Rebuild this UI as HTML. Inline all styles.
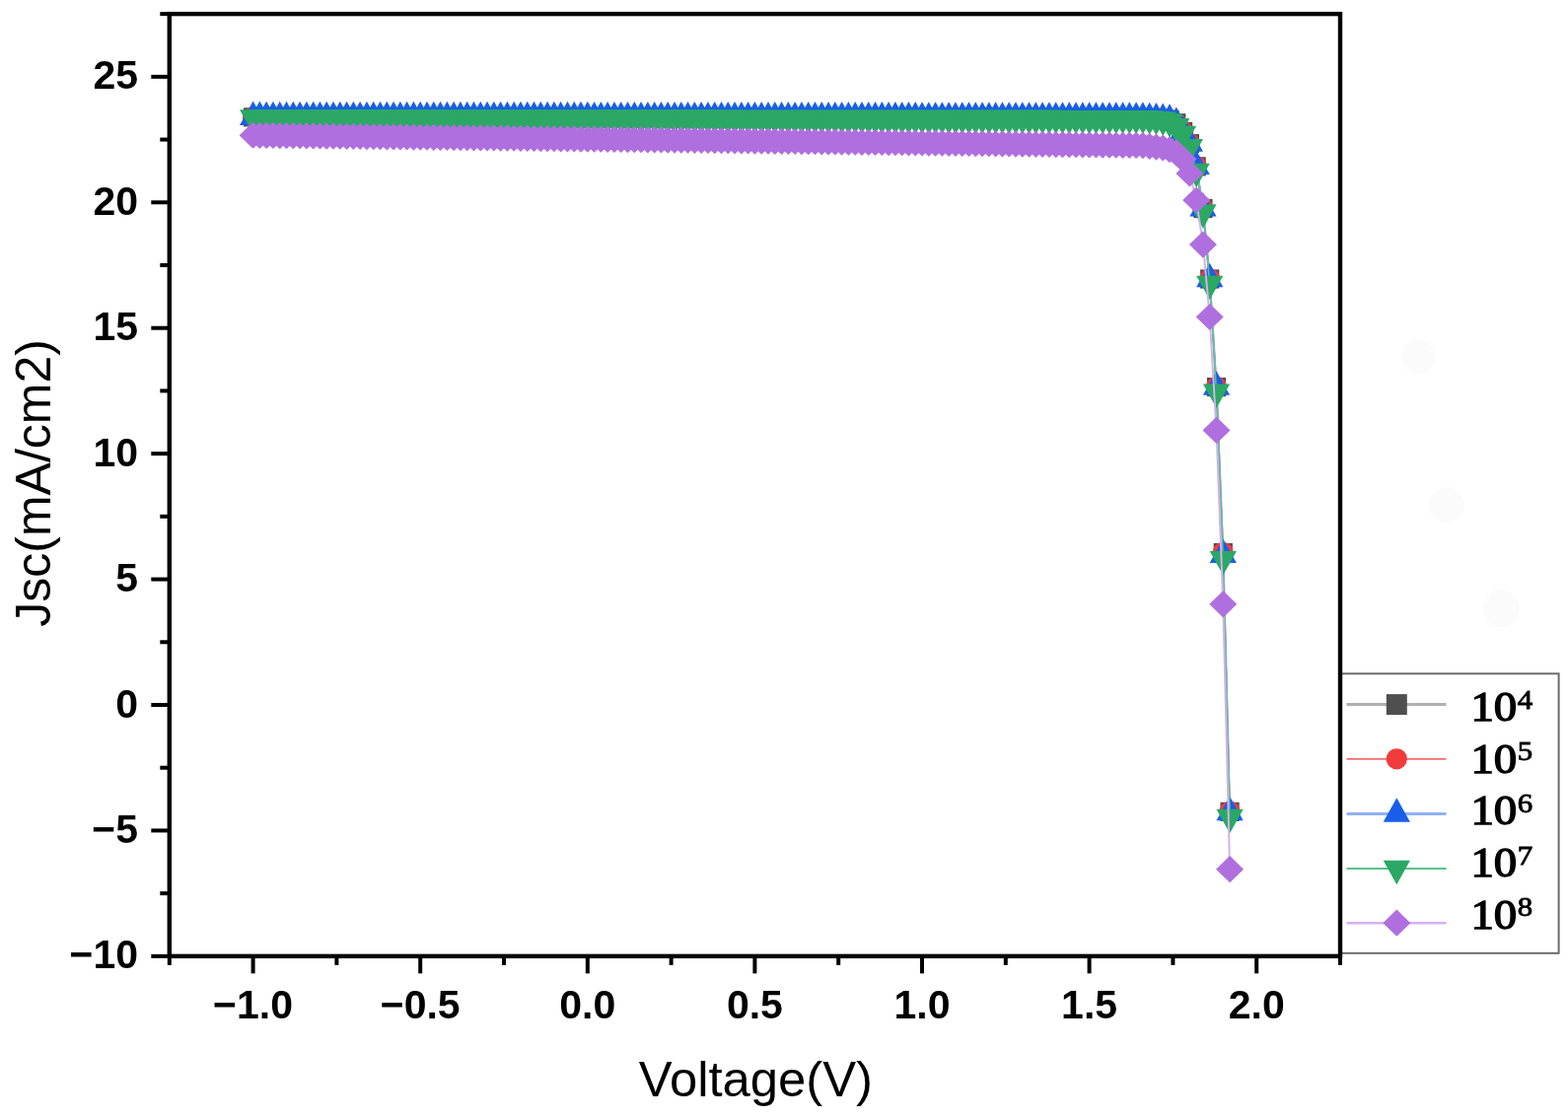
<!DOCTYPE html>
<html><head><meta charset="utf-8"><title>Jsc vs Voltage</title>
<style>
html,body{margin:0;padding:0;background:#fff;}
svg{display:block;}
</style></head>
<body>
<svg width="1590" height="1135" viewBox="0 0 1590 1135">
<rect width="1590" height="1135" fill="#fff"/>
<g fill="#fbfbfb"><circle cx="1438" cy="362" r="17"/><circle cx="1467" cy="512" r="18"/><circle cx="1522" cy="617" r="19"/></g>
<defs><clipPath id="pc"><rect x="171.80" y="14.13" width="1187.20" height="955.73"/></clipPath></defs>
<g clip-path="url(#pc)">
<polyline points="256.60,118.88 263.38,118.89 270.17,118.89 276.95,118.90 283.74,118.90 290.52,118.91 297.30,118.91 304.09,118.92 310.87,118.92 317.66,118.93 324.44,118.93 331.22,118.94 338.01,118.94 344.79,118.95 351.58,118.95 358.36,118.96 365.14,118.96 371.93,118.97 378.71,118.97 385.50,118.98 392.28,118.98 399.06,118.99 405.85,118.99 412.63,119.00 419.42,119.00 426.20,119.01 432.98,119.01 439.77,119.02 446.55,119.03 453.34,119.03 460.12,119.04 466.90,119.04 473.69,119.05 480.47,119.05 487.26,119.06 494.04,119.06 500.82,119.07 507.61,119.07 514.39,119.08 521.18,119.08 527.96,119.09 534.74,119.09 541.53,119.10 548.31,119.10 555.10,119.11 561.88,119.11 568.66,119.12 575.45,119.12 582.23,119.13 589.02,119.13 595.80,119.14 602.58,119.14 609.37,119.15 616.15,119.15 622.94,119.16 629.72,119.16 636.50,119.17 643.29,119.17 650.07,119.18 656.86,119.18 663.64,119.19 670.42,119.19 677.21,119.20 683.99,119.20 690.78,119.21 697.56,119.21 704.34,119.22 711.13,119.22 717.91,119.23 724.70,119.23 731.48,119.24 738.26,119.24 745.05,119.25 751.83,119.25 758.62,119.26 765.40,119.26 772.18,119.27 778.97,119.27 785.75,119.28 792.54,119.29 799.32,119.29 806.10,119.30 812.89,119.30 819.67,119.31 826.46,119.31 833.24,119.32 840.02,119.32 846.81,119.33 853.59,119.33 860.38,119.34 867.16,119.34 873.94,119.35 880.73,119.35 887.51,119.36 894.30,119.36 901.08,119.37 907.86,119.37 914.65,119.38 921.43,119.38 928.22,119.39 935.00,119.39 941.78,119.40 948.57,119.40 955.35,119.41 962.14,119.41 968.92,119.42 975.70,119.42 982.49,119.43 989.27,119.43 996.06,119.44 1002.84,119.44 1009.62,119.45 1016.41,119.45 1023.19,119.46 1029.98,119.46 1036.76,119.47 1043.54,119.47 1050.33,119.48 1057.11,119.48 1063.90,119.49 1070.68,119.49 1077.46,119.50 1084.25,119.50 1091.03,119.51 1097.82,119.51 1104.60,119.52 1111.38,119.52 1118.17,119.53 1124.95,119.53 1131.74,119.54 1138.52,119.55 1145.30,119.55 1152.09,119.56 1158.87,119.56 1165.66,119.90 1172.44,120.16 1179.22,120.67 1186.01,121.43 1192.79,124.74 1199.58,133.41 1206.36,145.64 1213.14,168.84 1219.93,211.40 1226.71,283.01 1233.50,392.60 1240.28,560.55 1247.06,823.32" fill="none" stroke="#b0b0b0" stroke-width="2"/>
<g fill="#4f4f4f"><rect x="247.00" y="109.28" width="19.20" height="19.20"/><rect x="253.78" y="109.29" width="19.20" height="19.20"/><rect x="260.57" y="109.29" width="19.20" height="19.20"/><rect x="267.35" y="109.30" width="19.20" height="19.20"/><rect x="274.14" y="109.30" width="19.20" height="19.20"/><rect x="280.92" y="109.31" width="19.20" height="19.20"/><rect x="287.70" y="109.31" width="19.20" height="19.20"/><rect x="294.49" y="109.32" width="19.20" height="19.20"/><rect x="301.27" y="109.32" width="19.20" height="19.20"/><rect x="308.06" y="109.33" width="19.20" height="19.20"/><rect x="314.84" y="109.33" width="19.20" height="19.20"/><rect x="321.62" y="109.34" width="19.20" height="19.20"/><rect x="328.41" y="109.34" width="19.20" height="19.20"/><rect x="335.19" y="109.35" width="19.20" height="19.20"/><rect x="341.98" y="109.35" width="19.20" height="19.20"/><rect x="348.76" y="109.36" width="19.20" height="19.20"/><rect x="355.54" y="109.36" width="19.20" height="19.20"/><rect x="362.33" y="109.37" width="19.20" height="19.20"/><rect x="369.11" y="109.37" width="19.20" height="19.20"/><rect x="375.90" y="109.38" width="19.20" height="19.20"/><rect x="382.68" y="109.38" width="19.20" height="19.20"/><rect x="389.46" y="109.39" width="19.20" height="19.20"/><rect x="396.25" y="109.39" width="19.20" height="19.20"/><rect x="403.03" y="109.40" width="19.20" height="19.20"/><rect x="409.82" y="109.40" width="19.20" height="19.20"/><rect x="416.60" y="109.41" width="19.20" height="19.20"/><rect x="423.38" y="109.41" width="19.20" height="19.20"/><rect x="430.17" y="109.42" width="19.20" height="19.20"/><rect x="436.95" y="109.43" width="19.20" height="19.20"/><rect x="443.74" y="109.43" width="19.20" height="19.20"/><rect x="450.52" y="109.44" width="19.20" height="19.20"/><rect x="457.30" y="109.44" width="19.20" height="19.20"/><rect x="464.09" y="109.45" width="19.20" height="19.20"/><rect x="470.87" y="109.45" width="19.20" height="19.20"/><rect x="477.66" y="109.46" width="19.20" height="19.20"/><rect x="484.44" y="109.46" width="19.20" height="19.20"/><rect x="491.22" y="109.47" width="19.20" height="19.20"/><rect x="498.01" y="109.47" width="19.20" height="19.20"/><rect x="504.79" y="109.48" width="19.20" height="19.20"/><rect x="511.58" y="109.48" width="19.20" height="19.20"/><rect x="518.36" y="109.49" width="19.20" height="19.20"/><rect x="525.14" y="109.49" width="19.20" height="19.20"/><rect x="531.93" y="109.50" width="19.20" height="19.20"/><rect x="538.71" y="109.50" width="19.20" height="19.20"/><rect x="545.50" y="109.51" width="19.20" height="19.20"/><rect x="552.28" y="109.51" width="19.20" height="19.20"/><rect x="559.06" y="109.52" width="19.20" height="19.20"/><rect x="565.85" y="109.52" width="19.20" height="19.20"/><rect x="572.63" y="109.53" width="19.20" height="19.20"/><rect x="579.42" y="109.53" width="19.20" height="19.20"/><rect x="586.20" y="109.54" width="19.20" height="19.20"/><rect x="592.98" y="109.54" width="19.20" height="19.20"/><rect x="599.77" y="109.55" width="19.20" height="19.20"/><rect x="606.55" y="109.55" width="19.20" height="19.20"/><rect x="613.34" y="109.56" width="19.20" height="19.20"/><rect x="620.12" y="109.56" width="19.20" height="19.20"/><rect x="626.90" y="109.57" width="19.20" height="19.20"/><rect x="633.69" y="109.57" width="19.20" height="19.20"/><rect x="640.47" y="109.58" width="19.20" height="19.20"/><rect x="647.26" y="109.58" width="19.20" height="19.20"/><rect x="654.04" y="109.59" width="19.20" height="19.20"/><rect x="660.82" y="109.59" width="19.20" height="19.20"/><rect x="667.61" y="109.60" width="19.20" height="19.20"/><rect x="674.39" y="109.60" width="19.20" height="19.20"/><rect x="681.18" y="109.61" width="19.20" height="19.20"/><rect x="687.96" y="109.61" width="19.20" height="19.20"/><rect x="694.74" y="109.62" width="19.20" height="19.20"/><rect x="701.53" y="109.62" width="19.20" height="19.20"/><rect x="708.31" y="109.63" width="19.20" height="19.20"/><rect x="715.10" y="109.63" width="19.20" height="19.20"/><rect x="721.88" y="109.64" width="19.20" height="19.20"/><rect x="728.66" y="109.64" width="19.20" height="19.20"/><rect x="735.45" y="109.65" width="19.20" height="19.20"/><rect x="742.23" y="109.65" width="19.20" height="19.20"/><rect x="749.02" y="109.66" width="19.20" height="19.20"/><rect x="755.80" y="109.66" width="19.20" height="19.20"/><rect x="762.58" y="109.67" width="19.20" height="19.20"/><rect x="769.37" y="109.67" width="19.20" height="19.20"/><rect x="776.15" y="109.68" width="19.20" height="19.20"/><rect x="782.94" y="109.69" width="19.20" height="19.20"/><rect x="789.72" y="109.69" width="19.20" height="19.20"/><rect x="796.50" y="109.70" width="19.20" height="19.20"/><rect x="803.29" y="109.70" width="19.20" height="19.20"/><rect x="810.07" y="109.71" width="19.20" height="19.20"/><rect x="816.86" y="109.71" width="19.20" height="19.20"/><rect x="823.64" y="109.72" width="19.20" height="19.20"/><rect x="830.42" y="109.72" width="19.20" height="19.20"/><rect x="837.21" y="109.73" width="19.20" height="19.20"/><rect x="843.99" y="109.73" width="19.20" height="19.20"/><rect x="850.78" y="109.74" width="19.20" height="19.20"/><rect x="857.56" y="109.74" width="19.20" height="19.20"/><rect x="864.34" y="109.75" width="19.20" height="19.20"/><rect x="871.13" y="109.75" width="19.20" height="19.20"/><rect x="877.91" y="109.76" width="19.20" height="19.20"/><rect x="884.70" y="109.76" width="19.20" height="19.20"/><rect x="891.48" y="109.77" width="19.20" height="19.20"/><rect x="898.26" y="109.77" width="19.20" height="19.20"/><rect x="905.05" y="109.78" width="19.20" height="19.20"/><rect x="911.83" y="109.78" width="19.20" height="19.20"/><rect x="918.62" y="109.79" width="19.20" height="19.20"/><rect x="925.40" y="109.79" width="19.20" height="19.20"/><rect x="932.18" y="109.80" width="19.20" height="19.20"/><rect x="938.97" y="109.80" width="19.20" height="19.20"/><rect x="945.75" y="109.81" width="19.20" height="19.20"/><rect x="952.54" y="109.81" width="19.20" height="19.20"/><rect x="959.32" y="109.82" width="19.20" height="19.20"/><rect x="966.10" y="109.82" width="19.20" height="19.20"/><rect x="972.89" y="109.83" width="19.20" height="19.20"/><rect x="979.67" y="109.83" width="19.20" height="19.20"/><rect x="986.46" y="109.84" width="19.20" height="19.20"/><rect x="993.24" y="109.84" width="19.20" height="19.20"/><rect x="1000.02" y="109.85" width="19.20" height="19.20"/><rect x="1006.81" y="109.85" width="19.20" height="19.20"/><rect x="1013.59" y="109.86" width="19.20" height="19.20"/><rect x="1020.38" y="109.86" width="19.20" height="19.20"/><rect x="1027.16" y="109.87" width="19.20" height="19.20"/><rect x="1033.94" y="109.87" width="19.20" height="19.20"/><rect x="1040.73" y="109.88" width="19.20" height="19.20"/><rect x="1047.51" y="109.88" width="19.20" height="19.20"/><rect x="1054.30" y="109.89" width="19.20" height="19.20"/><rect x="1061.08" y="109.89" width="19.20" height="19.20"/><rect x="1067.86" y="109.90" width="19.20" height="19.20"/><rect x="1074.65" y="109.90" width="19.20" height="19.20"/><rect x="1081.43" y="109.91" width="19.20" height="19.20"/><rect x="1088.22" y="109.91" width="19.20" height="19.20"/><rect x="1095.00" y="109.92" width="19.20" height="19.20"/><rect x="1101.78" y="109.92" width="19.20" height="19.20"/><rect x="1108.57" y="109.93" width="19.20" height="19.20"/><rect x="1115.35" y="109.93" width="19.20" height="19.20"/><rect x="1122.14" y="109.94" width="19.20" height="19.20"/><rect x="1128.92" y="109.95" width="19.20" height="19.20"/><rect x="1135.70" y="109.95" width="19.20" height="19.20"/><rect x="1142.49" y="109.96" width="19.20" height="19.20"/><rect x="1149.27" y="109.96" width="19.20" height="19.20"/><rect x="1156.06" y="110.30" width="19.20" height="19.20"/><rect x="1162.84" y="110.56" width="19.20" height="19.20"/><rect x="1169.62" y="111.07" width="19.20" height="19.20"/><rect x="1176.41" y="111.83" width="19.20" height="19.20"/><rect x="1183.19" y="115.14" width="19.20" height="19.20"/><rect x="1189.98" y="123.81" width="19.20" height="19.20"/><rect x="1196.76" y="136.04" width="19.20" height="19.20"/><rect x="1203.54" y="159.24" width="19.20" height="19.20"/><rect x="1210.33" y="201.80" width="19.20" height="19.20"/><rect x="1217.11" y="273.41" width="19.20" height="19.20"/><rect x="1223.90" y="383.00" width="19.20" height="19.20"/><rect x="1230.68" y="550.95" width="19.20" height="19.20"/><rect x="1237.46" y="813.72" width="19.20" height="19.20"/></g>
<polyline points="256.60,118.88 263.38,118.89 270.17,118.89 276.95,118.90 283.74,118.90 290.52,118.91 297.30,118.91 304.09,118.92 310.87,118.92 317.66,118.93 324.44,118.93 331.22,118.94 338.01,118.94 344.79,118.95 351.58,118.95 358.36,118.96 365.14,118.96 371.93,118.97 378.71,118.97 385.50,118.98 392.28,118.98 399.06,118.99 405.85,118.99 412.63,119.00 419.42,119.00 426.20,119.01 432.98,119.01 439.77,119.02 446.55,119.03 453.34,119.03 460.12,119.04 466.90,119.04 473.69,119.05 480.47,119.05 487.26,119.06 494.04,119.06 500.82,119.07 507.61,119.07 514.39,119.08 521.18,119.08 527.96,119.09 534.74,119.09 541.53,119.10 548.31,119.10 555.10,119.11 561.88,119.11 568.66,119.12 575.45,119.12 582.23,119.13 589.02,119.13 595.80,119.14 602.58,119.14 609.37,119.15 616.15,119.15 622.94,119.16 629.72,119.16 636.50,119.17 643.29,119.17 650.07,119.18 656.86,119.18 663.64,119.19 670.42,119.19 677.21,119.20 683.99,119.20 690.78,119.21 697.56,119.21 704.34,119.22 711.13,119.22 717.91,119.23 724.70,119.23 731.48,119.24 738.26,119.24 745.05,119.25 751.83,119.25 758.62,119.26 765.40,119.26 772.18,119.27 778.97,119.27 785.75,119.28 792.54,119.29 799.32,119.29 806.10,119.30 812.89,119.30 819.67,119.31 826.46,119.31 833.24,119.32 840.02,119.32 846.81,119.33 853.59,119.33 860.38,119.34 867.16,119.34 873.94,119.35 880.73,119.35 887.51,119.36 894.30,119.36 901.08,119.37 907.86,119.37 914.65,119.38 921.43,119.38 928.22,119.39 935.00,119.39 941.78,119.40 948.57,119.40 955.35,119.41 962.14,119.41 968.92,119.42 975.70,119.42 982.49,119.43 989.27,119.43 996.06,119.44 1002.84,119.44 1009.62,119.45 1016.41,119.45 1023.19,119.46 1029.98,119.46 1036.76,119.47 1043.54,119.47 1050.33,119.48 1057.11,119.48 1063.90,119.49 1070.68,119.49 1077.46,119.50 1084.25,119.50 1091.03,119.51 1097.82,119.51 1104.60,119.52 1111.38,119.52 1118.17,119.53 1124.95,119.53 1131.74,119.54 1138.52,119.55 1145.30,119.55 1152.09,119.56 1158.87,119.56 1165.66,119.90 1172.44,120.16 1179.22,120.67 1186.01,121.43 1192.79,124.74 1199.58,133.41 1206.36,145.64 1213.14,168.84 1219.93,211.40 1226.71,283.01 1233.50,392.60 1240.28,560.55 1247.06,823.32" fill="none" stroke="#f56b6b" stroke-width="1.6"/>
<g fill="#f23b3b"><circle cx="256.60" cy="118.88" r="10.6"/><circle cx="263.38" cy="118.89" r="10.6"/><circle cx="270.17" cy="118.89" r="10.6"/><circle cx="276.95" cy="118.90" r="10.6"/><circle cx="283.74" cy="118.90" r="10.6"/><circle cx="290.52" cy="118.91" r="10.6"/><circle cx="297.30" cy="118.91" r="10.6"/><circle cx="304.09" cy="118.92" r="10.6"/><circle cx="310.87" cy="118.92" r="10.6"/><circle cx="317.66" cy="118.93" r="10.6"/><circle cx="324.44" cy="118.93" r="10.6"/><circle cx="331.22" cy="118.94" r="10.6"/><circle cx="338.01" cy="118.94" r="10.6"/><circle cx="344.79" cy="118.95" r="10.6"/><circle cx="351.58" cy="118.95" r="10.6"/><circle cx="358.36" cy="118.96" r="10.6"/><circle cx="365.14" cy="118.96" r="10.6"/><circle cx="371.93" cy="118.97" r="10.6"/><circle cx="378.71" cy="118.97" r="10.6"/><circle cx="385.50" cy="118.98" r="10.6"/><circle cx="392.28" cy="118.98" r="10.6"/><circle cx="399.06" cy="118.99" r="10.6"/><circle cx="405.85" cy="118.99" r="10.6"/><circle cx="412.63" cy="119.00" r="10.6"/><circle cx="419.42" cy="119.00" r="10.6"/><circle cx="426.20" cy="119.01" r="10.6"/><circle cx="432.98" cy="119.01" r="10.6"/><circle cx="439.77" cy="119.02" r="10.6"/><circle cx="446.55" cy="119.03" r="10.6"/><circle cx="453.34" cy="119.03" r="10.6"/><circle cx="460.12" cy="119.04" r="10.6"/><circle cx="466.90" cy="119.04" r="10.6"/><circle cx="473.69" cy="119.05" r="10.6"/><circle cx="480.47" cy="119.05" r="10.6"/><circle cx="487.26" cy="119.06" r="10.6"/><circle cx="494.04" cy="119.06" r="10.6"/><circle cx="500.82" cy="119.07" r="10.6"/><circle cx="507.61" cy="119.07" r="10.6"/><circle cx="514.39" cy="119.08" r="10.6"/><circle cx="521.18" cy="119.08" r="10.6"/><circle cx="527.96" cy="119.09" r="10.6"/><circle cx="534.74" cy="119.09" r="10.6"/><circle cx="541.53" cy="119.10" r="10.6"/><circle cx="548.31" cy="119.10" r="10.6"/><circle cx="555.10" cy="119.11" r="10.6"/><circle cx="561.88" cy="119.11" r="10.6"/><circle cx="568.66" cy="119.12" r="10.6"/><circle cx="575.45" cy="119.12" r="10.6"/><circle cx="582.23" cy="119.13" r="10.6"/><circle cx="589.02" cy="119.13" r="10.6"/><circle cx="595.80" cy="119.14" r="10.6"/><circle cx="602.58" cy="119.14" r="10.6"/><circle cx="609.37" cy="119.15" r="10.6"/><circle cx="616.15" cy="119.15" r="10.6"/><circle cx="622.94" cy="119.16" r="10.6"/><circle cx="629.72" cy="119.16" r="10.6"/><circle cx="636.50" cy="119.17" r="10.6"/><circle cx="643.29" cy="119.17" r="10.6"/><circle cx="650.07" cy="119.18" r="10.6"/><circle cx="656.86" cy="119.18" r="10.6"/><circle cx="663.64" cy="119.19" r="10.6"/><circle cx="670.42" cy="119.19" r="10.6"/><circle cx="677.21" cy="119.20" r="10.6"/><circle cx="683.99" cy="119.20" r="10.6"/><circle cx="690.78" cy="119.21" r="10.6"/><circle cx="697.56" cy="119.21" r="10.6"/><circle cx="704.34" cy="119.22" r="10.6"/><circle cx="711.13" cy="119.22" r="10.6"/><circle cx="717.91" cy="119.23" r="10.6"/><circle cx="724.70" cy="119.23" r="10.6"/><circle cx="731.48" cy="119.24" r="10.6"/><circle cx="738.26" cy="119.24" r="10.6"/><circle cx="745.05" cy="119.25" r="10.6"/><circle cx="751.83" cy="119.25" r="10.6"/><circle cx="758.62" cy="119.26" r="10.6"/><circle cx="765.40" cy="119.26" r="10.6"/><circle cx="772.18" cy="119.27" r="10.6"/><circle cx="778.97" cy="119.27" r="10.6"/><circle cx="785.75" cy="119.28" r="10.6"/><circle cx="792.54" cy="119.29" r="10.6"/><circle cx="799.32" cy="119.29" r="10.6"/><circle cx="806.10" cy="119.30" r="10.6"/><circle cx="812.89" cy="119.30" r="10.6"/><circle cx="819.67" cy="119.31" r="10.6"/><circle cx="826.46" cy="119.31" r="10.6"/><circle cx="833.24" cy="119.32" r="10.6"/><circle cx="840.02" cy="119.32" r="10.6"/><circle cx="846.81" cy="119.33" r="10.6"/><circle cx="853.59" cy="119.33" r="10.6"/><circle cx="860.38" cy="119.34" r="10.6"/><circle cx="867.16" cy="119.34" r="10.6"/><circle cx="873.94" cy="119.35" r="10.6"/><circle cx="880.73" cy="119.35" r="10.6"/><circle cx="887.51" cy="119.36" r="10.6"/><circle cx="894.30" cy="119.36" r="10.6"/><circle cx="901.08" cy="119.37" r="10.6"/><circle cx="907.86" cy="119.37" r="10.6"/><circle cx="914.65" cy="119.38" r="10.6"/><circle cx="921.43" cy="119.38" r="10.6"/><circle cx="928.22" cy="119.39" r="10.6"/><circle cx="935.00" cy="119.39" r="10.6"/><circle cx="941.78" cy="119.40" r="10.6"/><circle cx="948.57" cy="119.40" r="10.6"/><circle cx="955.35" cy="119.41" r="10.6"/><circle cx="962.14" cy="119.41" r="10.6"/><circle cx="968.92" cy="119.42" r="10.6"/><circle cx="975.70" cy="119.42" r="10.6"/><circle cx="982.49" cy="119.43" r="10.6"/><circle cx="989.27" cy="119.43" r="10.6"/><circle cx="996.06" cy="119.44" r="10.6"/><circle cx="1002.84" cy="119.44" r="10.6"/><circle cx="1009.62" cy="119.45" r="10.6"/><circle cx="1016.41" cy="119.45" r="10.6"/><circle cx="1023.19" cy="119.46" r="10.6"/><circle cx="1029.98" cy="119.46" r="10.6"/><circle cx="1036.76" cy="119.47" r="10.6"/><circle cx="1043.54" cy="119.47" r="10.6"/><circle cx="1050.33" cy="119.48" r="10.6"/><circle cx="1057.11" cy="119.48" r="10.6"/><circle cx="1063.90" cy="119.49" r="10.6"/><circle cx="1070.68" cy="119.49" r="10.6"/><circle cx="1077.46" cy="119.50" r="10.6"/><circle cx="1084.25" cy="119.50" r="10.6"/><circle cx="1091.03" cy="119.51" r="10.6"/><circle cx="1097.82" cy="119.51" r="10.6"/><circle cx="1104.60" cy="119.52" r="10.6"/><circle cx="1111.38" cy="119.52" r="10.6"/><circle cx="1118.17" cy="119.53" r="10.6"/><circle cx="1124.95" cy="119.53" r="10.6"/><circle cx="1131.74" cy="119.54" r="10.6"/><circle cx="1138.52" cy="119.55" r="10.6"/><circle cx="1145.30" cy="119.55" r="10.6"/><circle cx="1152.09" cy="119.56" r="10.6"/><circle cx="1158.87" cy="119.56" r="10.6"/><circle cx="1165.66" cy="119.90" r="10.6"/><circle cx="1172.44" cy="120.16" r="10.6"/><circle cx="1179.22" cy="120.67" r="10.6"/><circle cx="1186.01" cy="121.43" r="10.6"/><circle cx="1192.79" cy="124.74" r="10.6"/><circle cx="1199.58" cy="133.41" r="10.6"/><circle cx="1206.36" cy="145.64" r="10.6"/><circle cx="1213.14" cy="168.84" r="10.6"/><circle cx="1219.93" cy="211.40" r="10.6"/><circle cx="1226.71" cy="283.01" r="10.6"/><circle cx="1233.50" cy="392.60" r="10.6"/><circle cx="1240.28" cy="560.55" r="10.6"/><circle cx="1247.06" cy="823.32" r="10.6"/></g>
<polyline points="256.60,118.88 263.38,118.89 270.17,118.89 276.95,118.90 283.74,118.90 290.52,118.91 297.30,118.91 304.09,118.92 310.87,118.92 317.66,118.93 324.44,118.93 331.22,118.94 338.01,118.94 344.79,118.95 351.58,118.95 358.36,118.96 365.14,118.96 371.93,118.97 378.71,118.97 385.50,118.98 392.28,118.98 399.06,118.99 405.85,118.99 412.63,119.00 419.42,119.00 426.20,119.01 432.98,119.01 439.77,119.02 446.55,119.03 453.34,119.03 460.12,119.04 466.90,119.04 473.69,119.05 480.47,119.05 487.26,119.06 494.04,119.06 500.82,119.07 507.61,119.07 514.39,119.08 521.18,119.08 527.96,119.09 534.74,119.09 541.53,119.10 548.31,119.10 555.10,119.11 561.88,119.11 568.66,119.12 575.45,119.12 582.23,119.13 589.02,119.13 595.80,119.14 602.58,119.14 609.37,119.15 616.15,119.15 622.94,119.16 629.72,119.16 636.50,119.17 643.29,119.17 650.07,119.18 656.86,119.18 663.64,119.19 670.42,119.19 677.21,119.20 683.99,119.20 690.78,119.21 697.56,119.21 704.34,119.22 711.13,119.22 717.91,119.23 724.70,119.23 731.48,119.24 738.26,119.24 745.05,119.25 751.83,119.25 758.62,119.26 765.40,119.26 772.18,119.27 778.97,119.27 785.75,119.28 792.54,119.29 799.32,119.29 806.10,119.30 812.89,119.30 819.67,119.31 826.46,119.31 833.24,119.32 840.02,119.32 846.81,119.33 853.59,119.33 860.38,119.34 867.16,119.34 873.94,119.35 880.73,119.35 887.51,119.36 894.30,119.36 901.08,119.37 907.86,119.37 914.65,119.38 921.43,119.38 928.22,119.39 935.00,119.39 941.78,119.40 948.57,119.40 955.35,119.41 962.14,119.41 968.92,119.42 975.70,119.42 982.49,119.43 989.27,119.43 996.06,119.44 1002.84,119.44 1009.62,119.45 1016.41,119.45 1023.19,119.46 1029.98,119.46 1036.76,119.47 1043.54,119.47 1050.33,119.48 1057.11,119.48 1063.90,119.49 1070.68,119.49 1077.46,119.50 1084.25,119.50 1091.03,119.51 1097.82,119.51 1104.60,119.52 1111.38,119.52 1118.17,119.53 1124.95,119.53 1131.74,119.54 1138.52,119.55 1145.30,119.55 1152.09,119.56 1158.87,119.56 1165.66,119.90 1172.44,120.16 1179.22,120.67 1186.01,121.43 1192.79,124.74 1199.58,133.41 1206.36,145.64 1213.14,168.84 1219.93,211.40 1226.71,283.01 1233.50,392.60 1240.28,562.85 1247.06,824.08" fill="none" stroke="#8fb2f2" stroke-width="2"/>
<g fill="#1a5ee8"><path d="M256.60 102.62L270.20 127.02H243.00Z"/><path d="M263.38 102.62L276.98 127.02H249.78Z"/><path d="M270.17 102.63L283.77 127.03H256.57Z"/><path d="M276.95 102.63L290.55 127.03H263.35Z"/><path d="M283.74 102.64L297.34 127.04H270.14Z"/><path d="M290.52 102.64L304.12 127.04H276.92Z"/><path d="M297.30 102.65L310.90 127.05H283.70Z"/><path d="M304.09 102.65L317.69 127.05H290.49Z"/><path d="M310.87 102.66L324.47 127.06H297.27Z"/><path d="M317.66 102.66L331.26 127.06H304.06Z"/><path d="M324.44 102.67L338.04 127.07H310.84Z"/><path d="M331.22 102.67L344.82 127.07H317.62Z"/><path d="M338.01 102.68L351.61 127.08H324.41Z"/><path d="M344.79 102.68L358.39 127.08H331.19Z"/><path d="M351.58 102.69L365.18 127.09H337.98Z"/><path d="M358.36 102.69L371.96 127.09H344.76Z"/><path d="M365.14 102.70L378.74 127.10H351.54Z"/><path d="M371.93 102.70L385.53 127.10H358.33Z"/><path d="M378.71 102.71L392.31 127.11H365.11Z"/><path d="M385.50 102.71L399.10 127.11H371.90Z"/><path d="M392.28 102.72L405.88 127.12H378.68Z"/><path d="M399.06 102.72L412.66 127.12H385.46Z"/><path d="M405.85 102.73L419.45 127.13H392.25Z"/><path d="M412.63 102.73L426.23 127.13H399.03Z"/><path d="M419.42 102.74L433.02 127.14H405.82Z"/><path d="M426.20 102.74L439.80 127.14H412.60Z"/><path d="M432.98 102.75L446.58 127.15H419.38Z"/><path d="M439.77 102.75L453.37 127.15H426.17Z"/><path d="M446.55 102.76L460.15 127.16H432.95Z"/><path d="M453.34 102.76L466.94 127.16H439.74Z"/><path d="M460.12 102.77L473.72 127.17H446.52Z"/><path d="M466.90 102.77L480.50 127.17H453.30Z"/><path d="M473.69 102.78L487.29 127.18H460.09Z"/><path d="M480.47 102.78L494.07 127.18H466.87Z"/><path d="M487.26 102.79L500.86 127.19H473.66Z"/><path d="M494.04 102.79L507.64 127.19H480.44Z"/><path d="M500.82 102.80L514.42 127.20H487.22Z"/><path d="M507.61 102.80L521.21 127.20H494.01Z"/><path d="M514.39 102.81L527.99 127.21H500.79Z"/><path d="M521.18 102.81L534.78 127.21H507.58Z"/><path d="M527.96 102.82L541.56 127.22H514.36Z"/><path d="M534.74 102.82L548.34 127.22H521.14Z"/><path d="M541.53 102.83L555.13 127.23H527.93Z"/><path d="M548.31 102.83L561.91 127.23H534.71Z"/><path d="M555.10 102.84L568.70 127.24H541.50Z"/><path d="M561.88 102.85L575.48 127.25H548.28Z"/><path d="M568.66 102.85L582.26 127.25H555.06Z"/><path d="M575.45 102.86L589.05 127.26H561.85Z"/><path d="M582.23 102.86L595.83 127.26H568.63Z"/><path d="M589.02 102.87L602.62 127.27H575.42Z"/><path d="M595.80 102.87L609.40 127.27H582.20Z"/><path d="M602.58 102.88L616.18 127.28H588.98Z"/><path d="M609.37 102.88L622.97 127.28H595.77Z"/><path d="M616.15 102.89L629.75 127.29H602.55Z"/><path d="M622.94 102.89L636.54 127.29H609.34Z"/><path d="M629.72 102.90L643.32 127.30H616.12Z"/><path d="M636.50 102.90L650.10 127.30H622.90Z"/><path d="M643.29 102.91L656.89 127.31H629.69Z"/><path d="M650.07 102.91L663.67 127.31H636.47Z"/><path d="M656.86 102.92L670.46 127.32H643.26Z"/><path d="M663.64 102.92L677.24 127.32H650.04Z"/><path d="M670.42 102.93L684.02 127.33H656.82Z"/><path d="M677.21 102.93L690.81 127.33H663.61Z"/><path d="M683.99 102.94L697.59 127.34H670.39Z"/><path d="M690.78 102.94L704.38 127.34H677.18Z"/><path d="M697.56 102.95L711.16 127.35H683.96Z"/><path d="M704.34 102.95L717.94 127.35H690.74Z"/><path d="M711.13 102.96L724.73 127.36H697.53Z"/><path d="M717.91 102.96L731.51 127.36H704.31Z"/><path d="M724.70 102.97L738.30 127.37H711.10Z"/><path d="M731.48 102.97L745.08 127.37H717.88Z"/><path d="M738.26 102.98L751.86 127.38H724.66Z"/><path d="M745.05 102.98L758.65 127.38H731.45Z"/><path d="M751.83 102.99L765.43 127.39H738.23Z"/><path d="M758.62 102.99L772.22 127.39H745.02Z"/><path d="M765.40 103.00L779.00 127.40H751.80Z"/><path d="M772.18 103.00L785.78 127.40H758.58Z"/><path d="M778.97 103.01L792.57 127.41H765.37Z"/><path d="M785.75 103.01L799.35 127.41H772.15Z"/><path d="M792.54 103.02L806.14 127.42H778.94Z"/><path d="M799.32 103.02L812.92 127.42H785.72Z"/><path d="M806.10 103.03L819.70 127.43H792.50Z"/><path d="M812.89 103.03L826.49 127.43H799.29Z"/><path d="M819.67 103.04L833.27 127.44H806.07Z"/><path d="M826.46 103.04L840.06 127.44H812.86Z"/><path d="M833.24 103.05L846.84 127.45H819.64Z"/><path d="M840.02 103.05L853.62 127.45H826.42Z"/><path d="M846.81 103.06L860.41 127.46H833.21Z"/><path d="M853.59 103.06L867.19 127.46H839.99Z"/><path d="M860.38 103.07L873.98 127.47H846.78Z"/><path d="M867.16 103.07L880.76 127.47H853.56Z"/><path d="M873.94 103.08L887.54 127.48H860.34Z"/><path d="M880.73 103.08L894.33 127.48H867.13Z"/><path d="M887.51 103.09L901.11 127.49H873.91Z"/><path d="M894.30 103.09L907.90 127.49H880.70Z"/><path d="M901.08 103.10L914.68 127.50H887.48Z"/><path d="M907.86 103.11L921.46 127.51H894.26Z"/><path d="M914.65 103.11L928.25 127.51H901.05Z"/><path d="M921.43 103.12L935.03 127.52H907.83Z"/><path d="M928.22 103.12L941.82 127.52H914.62Z"/><path d="M935.00 103.13L948.60 127.53H921.40Z"/><path d="M941.78 103.13L955.38 127.53H928.18Z"/><path d="M948.57 103.14L962.17 127.54H934.97Z"/><path d="M955.35 103.14L968.95 127.54H941.75Z"/><path d="M962.14 103.15L975.74 127.55H948.54Z"/><path d="M968.92 103.15L982.52 127.55H955.32Z"/><path d="M975.70 103.16L989.30 127.56H962.10Z"/><path d="M982.49 103.16L996.09 127.56H968.89Z"/><path d="M989.27 103.17L1002.87 127.57H975.67Z"/><path d="M996.06 103.17L1009.66 127.57H982.46Z"/><path d="M1002.84 103.18L1016.44 127.58H989.24Z"/><path d="M1009.62 103.18L1023.22 127.58H996.02Z"/><path d="M1016.41 103.19L1030.01 127.59H1002.81Z"/><path d="M1023.19 103.19L1036.79 127.59H1009.59Z"/><path d="M1029.98 103.20L1043.58 127.60H1016.38Z"/><path d="M1036.76 103.20L1050.36 127.60H1023.16Z"/><path d="M1043.54 103.21L1057.14 127.61H1029.94Z"/><path d="M1050.33 103.21L1063.93 127.61H1036.73Z"/><path d="M1057.11 103.22L1070.71 127.62H1043.51Z"/><path d="M1063.90 103.22L1077.50 127.62H1050.30Z"/><path d="M1070.68 103.23L1084.28 127.63H1057.08Z"/><path d="M1077.46 103.23L1091.06 127.63H1063.86Z"/><path d="M1084.25 103.24L1097.85 127.64H1070.65Z"/><path d="M1091.03 103.24L1104.63 127.64H1077.43Z"/><path d="M1097.82 103.25L1111.42 127.65H1084.22Z"/><path d="M1104.60 103.25L1118.20 127.65H1091.00Z"/><path d="M1111.38 103.26L1124.98 127.66H1097.78Z"/><path d="M1118.17 103.26L1131.77 127.66H1104.57Z"/><path d="M1124.95 103.27L1138.55 127.67H1111.35Z"/><path d="M1131.74 103.27L1145.34 127.67H1118.14Z"/><path d="M1138.52 103.28L1152.12 127.68H1124.92Z"/><path d="M1145.30 103.28L1158.90 127.68H1131.70Z"/><path d="M1152.09 103.29L1165.69 127.69H1138.49Z"/><path d="M1158.87 103.29L1172.47 127.69H1145.27Z"/><path d="M1165.66 103.64L1179.26 128.04H1152.06Z"/><path d="M1172.44 103.89L1186.04 128.29H1158.84Z"/><path d="M1179.22 104.40L1192.82 128.80H1165.62Z"/><path d="M1186.01 105.16L1199.61 129.56H1172.41Z"/><path d="M1192.79 108.48L1206.39 132.88H1179.19Z"/><path d="M1199.58 117.14L1213.18 141.54H1185.98Z"/><path d="M1206.36 129.38L1219.96 153.78H1192.76Z"/><path d="M1213.14 152.57L1226.74 176.97H1199.54Z"/><path d="M1219.93 195.13L1233.53 219.53H1206.33Z"/><path d="M1226.71 266.75L1240.31 291.15H1213.11Z"/><path d="M1233.50 376.34L1247.10 400.74H1219.90Z"/><path d="M1240.28 546.58L1253.88 570.98H1226.68Z"/><path d="M1247.06 807.81L1260.66 832.21H1233.46Z"/></g>
<polyline points="256.60,119.39 263.38,119.40 270.17,119.40 276.95,119.41 283.74,119.41 290.52,119.42 297.30,119.42 304.09,119.43 310.87,119.43 317.66,119.44 324.44,119.44 331.22,119.45 338.01,119.45 344.79,119.46 351.58,119.46 358.36,119.47 365.14,119.47 371.93,119.48 378.71,119.48 385.50,119.49 392.28,119.49 399.06,119.50 405.85,119.50 412.63,119.51 419.42,119.51 426.20,119.52 432.98,119.52 439.77,119.53 446.55,119.53 453.34,119.54 460.12,119.55 466.90,119.55 473.69,119.56 480.47,119.56 487.26,119.57 494.04,119.57 500.82,119.58 507.61,119.58 514.39,119.59 521.18,119.59 527.96,119.60 534.74,119.60 541.53,119.61 548.31,119.61 555.10,119.62 561.88,119.62 568.66,119.63 575.45,119.63 582.23,119.64 589.02,119.64 595.80,119.65 602.58,119.65 609.37,119.66 616.15,119.66 622.94,119.67 629.72,119.67 636.50,119.68 643.29,119.68 650.07,119.69 656.86,119.69 663.64,119.70 670.42,119.70 677.21,119.71 683.99,119.71 690.78,119.72 697.56,119.72 704.34,119.73 711.13,119.73 717.91,119.74 724.70,119.74 731.48,119.75 738.26,119.75 745.05,119.76 751.83,119.76 758.62,119.77 765.40,119.77 772.18,119.78 778.97,119.78 785.75,119.79 792.54,119.79 799.32,119.80 806.10,119.81 812.89,119.81 819.67,119.82 826.46,119.82 833.24,119.83 840.02,119.83 846.81,119.84 853.59,119.84 860.38,119.85 867.16,119.85 873.94,119.86 880.73,119.86 887.51,119.87 894.30,119.87 901.08,119.88 907.86,119.88 914.65,119.89 921.43,119.89 928.22,119.90 935.00,119.90 941.78,119.91 948.57,119.91 955.35,119.92 962.14,119.92 968.92,119.93 975.70,119.93 982.49,119.94 989.27,119.94 996.06,119.95 1002.84,119.95 1009.62,119.96 1016.41,119.96 1023.19,119.97 1029.98,119.97 1036.76,119.98 1043.54,119.98 1050.33,119.99 1057.11,119.99 1063.90,120.00 1070.68,120.00 1077.46,120.01 1084.25,120.01 1091.03,120.02 1097.82,120.02 1104.60,120.03 1111.38,120.03 1118.17,120.04 1124.95,120.04 1131.74,120.05 1138.52,120.05 1145.30,120.06 1152.09,120.07 1158.87,120.07 1165.66,120.41 1172.44,120.92 1179.22,121.69 1186.01,123.47 1192.79,128.06 1199.58,135.96 1206.36,149.21 1213.14,173.93 1219.93,215.47 1226.71,287.85 1233.50,397.70 1240.28,567.18 1247.06,828.92" fill="none" stroke="#5cc08a" stroke-width="1.6"/>
<g fill="#2aa864"><path d="M256.60 135.66L270.20 111.26H243.00Z"/><path d="M263.38 135.66L276.98 111.26H249.78Z"/><path d="M270.17 135.67L283.77 111.27H256.57Z"/><path d="M276.95 135.67L290.55 111.27H263.35Z"/><path d="M283.74 135.68L297.34 111.28H270.14Z"/><path d="M290.52 135.68L304.12 111.28H276.92Z"/><path d="M297.30 135.69L310.90 111.29H283.70Z"/><path d="M304.09 135.69L317.69 111.29H290.49Z"/><path d="M310.87 135.70L324.47 111.30H297.27Z"/><path d="M317.66 135.70L331.26 111.30H304.06Z"/><path d="M324.44 135.71L338.04 111.31H310.84Z"/><path d="M331.22 135.71L344.82 111.31H317.62Z"/><path d="M338.01 135.72L351.61 111.32H324.41Z"/><path d="M344.79 135.73L358.39 111.33H331.19Z"/><path d="M351.58 135.73L365.18 111.33H337.98Z"/><path d="M358.36 135.74L371.96 111.34H344.76Z"/><path d="M365.14 135.74L378.74 111.34H351.54Z"/><path d="M371.93 135.75L385.53 111.35H358.33Z"/><path d="M378.71 135.75L392.31 111.35H365.11Z"/><path d="M385.50 135.76L399.10 111.36H371.90Z"/><path d="M392.28 135.76L405.88 111.36H378.68Z"/><path d="M399.06 135.77L412.66 111.37H385.46Z"/><path d="M405.85 135.77L419.45 111.37H392.25Z"/><path d="M412.63 135.78L426.23 111.38H399.03Z"/><path d="M419.42 135.78L433.02 111.38H405.82Z"/><path d="M426.20 135.79L439.80 111.39H412.60Z"/><path d="M432.98 135.79L446.58 111.39H419.38Z"/><path d="M439.77 135.80L453.37 111.40H426.17Z"/><path d="M446.55 135.80L460.15 111.40H432.95Z"/><path d="M453.34 135.81L466.94 111.41H439.74Z"/><path d="M460.12 135.81L473.72 111.41H446.52Z"/><path d="M466.90 135.82L480.50 111.42H453.30Z"/><path d="M473.69 135.82L487.29 111.42H460.09Z"/><path d="M480.47 135.83L494.07 111.43H466.87Z"/><path d="M487.26 135.83L500.86 111.43H473.66Z"/><path d="M494.04 135.84L507.64 111.44H480.44Z"/><path d="M500.82 135.84L514.42 111.44H487.22Z"/><path d="M507.61 135.85L521.21 111.45H494.01Z"/><path d="M514.39 135.85L527.99 111.45H500.79Z"/><path d="M521.18 135.86L534.78 111.46H507.58Z"/><path d="M527.96 135.86L541.56 111.46H514.36Z"/><path d="M534.74 135.87L548.34 111.47H521.14Z"/><path d="M541.53 135.87L555.13 111.47H527.93Z"/><path d="M548.31 135.88L561.91 111.48H534.71Z"/><path d="M555.10 135.88L568.70 111.48H541.50Z"/><path d="M561.88 135.89L575.48 111.49H548.28Z"/><path d="M568.66 135.89L582.26 111.49H555.06Z"/><path d="M575.45 135.90L589.05 111.50H561.85Z"/><path d="M582.23 135.90L595.83 111.50H568.63Z"/><path d="M589.02 135.91L602.62 111.51H575.42Z"/><path d="M595.80 135.91L609.40 111.51H582.20Z"/><path d="M602.58 135.92L616.18 111.52H588.98Z"/><path d="M609.37 135.92L622.97 111.52H595.77Z"/><path d="M616.15 135.93L629.75 111.53H602.55Z"/><path d="M622.94 135.93L636.54 111.53H609.34Z"/><path d="M629.72 135.94L643.32 111.54H616.12Z"/><path d="M636.50 135.94L650.10 111.54H622.90Z"/><path d="M643.29 135.95L656.89 111.55H629.69Z"/><path d="M650.07 135.95L663.67 111.55H636.47Z"/><path d="M656.86 135.96L670.46 111.56H643.26Z"/><path d="M663.64 135.96L677.24 111.56H650.04Z"/><path d="M670.42 135.97L684.02 111.57H656.82Z"/><path d="M677.21 135.97L690.81 111.57H663.61Z"/><path d="M683.99 135.98L697.59 111.58H670.39Z"/><path d="M690.78 135.99L704.38 111.59H677.18Z"/><path d="M697.56 135.99L711.16 111.59H683.96Z"/><path d="M704.34 136.00L717.94 111.60H690.74Z"/><path d="M711.13 136.00L724.73 111.60H697.53Z"/><path d="M717.91 136.01L731.51 111.61H704.31Z"/><path d="M724.70 136.01L738.30 111.61H711.10Z"/><path d="M731.48 136.02L745.08 111.62H717.88Z"/><path d="M738.26 136.02L751.86 111.62H724.66Z"/><path d="M745.05 136.03L758.65 111.63H731.45Z"/><path d="M751.83 136.03L765.43 111.63H738.23Z"/><path d="M758.62 136.04L772.22 111.64H745.02Z"/><path d="M765.40 136.04L779.00 111.64H751.80Z"/><path d="M772.18 136.05L785.78 111.65H758.58Z"/><path d="M778.97 136.05L792.57 111.65H765.37Z"/><path d="M785.75 136.06L799.35 111.66H772.15Z"/><path d="M792.54 136.06L806.14 111.66H778.94Z"/><path d="M799.32 136.07L812.92 111.67H785.72Z"/><path d="M806.10 136.07L819.70 111.67H792.50Z"/><path d="M812.89 136.08L826.49 111.68H799.29Z"/><path d="M819.67 136.08L833.27 111.68H806.07Z"/><path d="M826.46 136.09L840.06 111.69H812.86Z"/><path d="M833.24 136.09L846.84 111.69H819.64Z"/><path d="M840.02 136.10L853.62 111.70H826.42Z"/><path d="M846.81 136.10L860.41 111.70H833.21Z"/><path d="M853.59 136.11L867.19 111.71H839.99Z"/><path d="M860.38 136.11L873.98 111.71H846.78Z"/><path d="M867.16 136.12L880.76 111.72H853.56Z"/><path d="M873.94 136.12L887.54 111.72H860.34Z"/><path d="M880.73 136.13L894.33 111.73H867.13Z"/><path d="M887.51 136.13L901.11 111.73H873.91Z"/><path d="M894.30 136.14L907.90 111.74H880.70Z"/><path d="M901.08 136.14L914.68 111.74H887.48Z"/><path d="M907.86 136.15L921.46 111.75H894.26Z"/><path d="M914.65 136.15L928.25 111.75H901.05Z"/><path d="M921.43 136.16L935.03 111.76H907.83Z"/><path d="M928.22 136.16L941.82 111.76H914.62Z"/><path d="M935.00 136.17L948.60 111.77H921.40Z"/><path d="M941.78 136.17L955.38 111.77H928.18Z"/><path d="M948.57 136.18L962.17 111.78H934.97Z"/><path d="M955.35 136.18L968.95 111.78H941.75Z"/><path d="M962.14 136.19L975.74 111.79H948.54Z"/><path d="M968.92 136.19L982.52 111.79H955.32Z"/><path d="M975.70 136.20L989.30 111.80H962.10Z"/><path d="M982.49 136.20L996.09 111.80H968.89Z"/><path d="M989.27 136.21L1002.87 111.81H975.67Z"/><path d="M996.06 136.21L1009.66 111.81H982.46Z"/><path d="M1002.84 136.22L1016.44 111.82H989.24Z"/><path d="M1009.62 136.22L1023.22 111.82H996.02Z"/><path d="M1016.41 136.23L1030.01 111.83H1002.81Z"/><path d="M1023.19 136.23L1036.79 111.83H1009.59Z"/><path d="M1029.98 136.24L1043.58 111.84H1016.38Z"/><path d="M1036.76 136.25L1050.36 111.85H1023.16Z"/><path d="M1043.54 136.25L1057.14 111.85H1029.94Z"/><path d="M1050.33 136.26L1063.93 111.86H1036.73Z"/><path d="M1057.11 136.26L1070.71 111.86H1043.51Z"/><path d="M1063.90 136.27L1077.50 111.87H1050.30Z"/><path d="M1070.68 136.27L1084.28 111.87H1057.08Z"/><path d="M1077.46 136.28L1091.06 111.88H1063.86Z"/><path d="M1084.25 136.28L1097.85 111.88H1070.65Z"/><path d="M1091.03 136.29L1104.63 111.89H1077.43Z"/><path d="M1097.82 136.29L1111.42 111.89H1084.22Z"/><path d="M1104.60 136.30L1118.20 111.90H1091.00Z"/><path d="M1111.38 136.30L1124.98 111.90H1097.78Z"/><path d="M1118.17 136.31L1131.77 111.91H1104.57Z"/><path d="M1124.95 136.31L1138.55 111.91H1111.35Z"/><path d="M1131.74 136.32L1145.34 111.92H1118.14Z"/><path d="M1138.52 136.32L1152.12 111.92H1124.92Z"/><path d="M1145.30 136.33L1158.90 111.93H1131.70Z"/><path d="M1152.09 136.33L1165.69 111.93H1138.49Z"/><path d="M1158.87 136.34L1172.47 111.94H1145.27Z"/><path d="M1165.66 136.68L1179.26 112.28H1152.06Z"/><path d="M1172.44 137.19L1186.04 112.79H1158.84Z"/><path d="M1179.22 137.95L1192.82 113.55H1165.62Z"/><path d="M1186.01 139.74L1199.61 115.34H1172.41Z"/><path d="M1192.79 144.32L1206.39 119.92H1179.19Z"/><path d="M1199.58 152.22L1213.18 127.82H1185.98Z"/><path d="M1206.36 165.48L1219.96 141.08H1192.76Z"/><path d="M1213.14 190.20L1226.74 165.80H1199.54Z"/><path d="M1219.93 231.74L1233.53 207.34H1206.33Z"/><path d="M1226.71 304.12L1240.31 279.72H1213.11Z"/><path d="M1233.50 413.97L1247.10 389.57H1219.90Z"/><path d="M1240.28 583.45L1253.88 559.05H1226.68Z"/><path d="M1247.06 845.19L1260.66 820.79H1233.46Z"/></g>
<polyline points="256.60,137.23 263.38,137.31 270.17,137.39 276.95,137.46 283.74,137.54 290.52,137.62 297.30,137.70 304.09,137.77 310.87,137.85 317.66,137.93 324.44,138.01 331.22,138.08 338.01,138.16 344.79,138.24 351.58,138.32 358.36,138.39 365.14,138.47 371.93,138.55 378.71,138.63 385.50,138.70 392.28,138.78 399.06,138.86 405.85,138.94 412.63,139.01 419.42,139.09 426.20,139.17 432.98,139.25 439.77,139.32 446.55,139.40 453.34,139.48 460.12,139.56 466.90,139.63 473.69,139.71 480.47,139.79 487.26,139.87 494.04,139.94 500.82,140.02 507.61,140.10 514.39,140.18 521.18,140.25 527.96,140.33 534.74,140.41 541.53,140.49 548.31,140.56 555.10,140.64 561.88,140.72 568.66,140.80 575.45,140.87 582.23,140.95 589.02,141.03 595.80,141.11 602.58,141.18 609.37,141.26 616.15,141.34 622.94,141.42 629.72,141.49 636.50,141.57 643.29,141.65 650.07,141.73 656.86,141.80 663.64,141.88 670.42,141.96 677.21,142.04 683.99,142.11 690.78,142.19 697.56,142.27 704.34,142.35 711.13,142.42 717.91,142.50 724.70,142.58 731.48,142.66 738.26,142.73 745.05,142.81 751.83,142.89 758.62,142.97 765.40,143.04 772.18,143.12 778.97,143.20 785.75,143.28 792.54,143.35 799.32,143.43 806.10,143.51 812.89,143.59 819.67,143.66 826.46,143.74 833.24,143.82 840.02,143.90 846.81,143.97 853.59,144.05 860.38,144.13 867.16,144.21 873.94,144.28 880.73,144.36 887.51,144.44 894.30,144.52 901.08,144.59 907.86,144.67 914.65,144.75 921.43,144.83 928.22,144.90 935.00,144.98 941.78,145.06 948.57,145.14 955.35,145.21 962.14,145.29 968.92,145.37 975.70,145.44 982.49,145.52 989.27,145.60 996.06,145.68 1002.84,145.75 1009.62,145.83 1016.41,145.91 1023.19,145.99 1029.98,146.06 1036.76,146.14 1043.54,146.22 1050.33,146.30 1057.11,146.37 1063.90,146.45 1070.68,146.53 1077.46,146.61 1084.25,146.68 1091.03,146.76 1097.82,146.84 1104.60,146.92 1111.38,146.99 1118.17,147.07 1124.95,147.15 1131.74,147.23 1138.52,147.30 1145.30,147.38 1152.09,147.46 1158.87,147.54 1165.66,148.37 1172.44,149.21 1179.22,149.98 1186.01,151.76 1192.79,154.82 1199.58,161.44 1206.36,175.97 1213.14,202.99 1219.93,248.10 1226.71,321.50 1233.50,436.44 1240.28,612.80 1247.06,881.68" fill="none" stroke="#d4b0f0" stroke-width="2"/>
<g fill="#b06fdf"><path d="M256.60 123.63L270.60 137.23L256.60 150.83L242.60 137.23Z"/><path d="M263.38 123.71L277.38 137.31L263.38 150.91L249.38 137.31Z"/><path d="M270.17 123.79L284.17 137.39L270.17 150.99L256.17 137.39Z"/><path d="M276.95 123.86L290.95 137.46L276.95 151.06L262.95 137.46Z"/><path d="M283.74 123.94L297.74 137.54L283.74 151.14L269.74 137.54Z"/><path d="M290.52 124.02L304.52 137.62L290.52 151.22L276.52 137.62Z"/><path d="M297.30 124.10L311.30 137.70L297.30 151.30L283.30 137.70Z"/><path d="M304.09 124.17L318.09 137.77L304.09 151.37L290.09 137.77Z"/><path d="M310.87 124.25L324.87 137.85L310.87 151.45L296.87 137.85Z"/><path d="M317.66 124.33L331.66 137.93L317.66 151.53L303.66 137.93Z"/><path d="M324.44 124.41L338.44 138.01L324.44 151.61L310.44 138.01Z"/><path d="M331.22 124.48L345.22 138.08L331.22 151.68L317.22 138.08Z"/><path d="M338.01 124.56L352.01 138.16L338.01 151.76L324.01 138.16Z"/><path d="M344.79 124.64L358.79 138.24L344.79 151.84L330.79 138.24Z"/><path d="M351.58 124.72L365.58 138.32L351.58 151.92L337.58 138.32Z"/><path d="M358.36 124.79L372.36 138.39L358.36 151.99L344.36 138.39Z"/><path d="M365.14 124.87L379.14 138.47L365.14 152.07L351.14 138.47Z"/><path d="M371.93 124.95L385.93 138.55L371.93 152.15L357.93 138.55Z"/><path d="M378.71 125.03L392.71 138.63L378.71 152.23L364.71 138.63Z"/><path d="M385.50 125.10L399.50 138.70L385.50 152.30L371.50 138.70Z"/><path d="M392.28 125.18L406.28 138.78L392.28 152.38L378.28 138.78Z"/><path d="M399.06 125.26L413.06 138.86L399.06 152.46L385.06 138.86Z"/><path d="M405.85 125.34L419.85 138.94L405.85 152.54L391.85 138.94Z"/><path d="M412.63 125.41L426.63 139.01L412.63 152.61L398.63 139.01Z"/><path d="M419.42 125.49L433.42 139.09L419.42 152.69L405.42 139.09Z"/><path d="M426.20 125.57L440.20 139.17L426.20 152.77L412.20 139.17Z"/><path d="M432.98 125.65L446.98 139.25L432.98 152.85L418.98 139.25Z"/><path d="M439.77 125.72L453.77 139.32L439.77 152.92L425.77 139.32Z"/><path d="M446.55 125.80L460.55 139.40L446.55 153.00L432.55 139.40Z"/><path d="M453.34 125.88L467.34 139.48L453.34 153.08L439.34 139.48Z"/><path d="M460.12 125.96L474.12 139.56L460.12 153.16L446.12 139.56Z"/><path d="M466.90 126.03L480.90 139.63L466.90 153.23L452.90 139.63Z"/><path d="M473.69 126.11L487.69 139.71L473.69 153.31L459.69 139.71Z"/><path d="M480.47 126.19L494.47 139.79L480.47 153.39L466.47 139.79Z"/><path d="M487.26 126.27L501.26 139.87L487.26 153.47L473.26 139.87Z"/><path d="M494.04 126.34L508.04 139.94L494.04 153.54L480.04 139.94Z"/><path d="M500.82 126.42L514.82 140.02L500.82 153.62L486.82 140.02Z"/><path d="M507.61 126.50L521.61 140.10L507.61 153.70L493.61 140.10Z"/><path d="M514.39 126.58L528.39 140.18L514.39 153.78L500.39 140.18Z"/><path d="M521.18 126.65L535.18 140.25L521.18 153.85L507.18 140.25Z"/><path d="M527.96 126.73L541.96 140.33L527.96 153.93L513.96 140.33Z"/><path d="M534.74 126.81L548.74 140.41L534.74 154.01L520.74 140.41Z"/><path d="M541.53 126.89L555.53 140.49L541.53 154.09L527.53 140.49Z"/><path d="M548.31 126.96L562.31 140.56L548.31 154.16L534.31 140.56Z"/><path d="M555.10 127.04L569.10 140.64L555.10 154.24L541.10 140.64Z"/><path d="M561.88 127.12L575.88 140.72L561.88 154.32L547.88 140.72Z"/><path d="M568.66 127.20L582.66 140.80L568.66 154.40L554.66 140.80Z"/><path d="M575.45 127.27L589.45 140.87L575.45 154.47L561.45 140.87Z"/><path d="M582.23 127.35L596.23 140.95L582.23 154.55L568.23 140.95Z"/><path d="M589.02 127.43L603.02 141.03L589.02 154.63L575.02 141.03Z"/><path d="M595.80 127.51L609.80 141.11L595.80 154.71L581.80 141.11Z"/><path d="M602.58 127.58L616.58 141.18L602.58 154.78L588.58 141.18Z"/><path d="M609.37 127.66L623.37 141.26L609.37 154.86L595.37 141.26Z"/><path d="M616.15 127.74L630.15 141.34L616.15 154.94L602.15 141.34Z"/><path d="M622.94 127.82L636.94 141.42L622.94 155.02L608.94 141.42Z"/><path d="M629.72 127.89L643.72 141.49L629.72 155.09L615.72 141.49Z"/><path d="M636.50 127.97L650.50 141.57L636.50 155.17L622.50 141.57Z"/><path d="M643.29 128.05L657.29 141.65L643.29 155.25L629.29 141.65Z"/><path d="M650.07 128.13L664.07 141.73L650.07 155.33L636.07 141.73Z"/><path d="M656.86 128.20L670.86 141.80L656.86 155.40L642.86 141.80Z"/><path d="M663.64 128.28L677.64 141.88L663.64 155.48L649.64 141.88Z"/><path d="M670.42 128.36L684.42 141.96L670.42 155.56L656.42 141.96Z"/><path d="M677.21 128.44L691.21 142.04L677.21 155.64L663.21 142.04Z"/><path d="M683.99 128.51L697.99 142.11L683.99 155.71L669.99 142.11Z"/><path d="M690.78 128.59L704.78 142.19L690.78 155.79L676.78 142.19Z"/><path d="M697.56 128.67L711.56 142.27L697.56 155.87L683.56 142.27Z"/><path d="M704.34 128.75L718.34 142.35L704.34 155.95L690.34 142.35Z"/><path d="M711.13 128.82L725.13 142.42L711.13 156.02L697.13 142.42Z"/><path d="M717.91 128.90L731.91 142.50L717.91 156.10L703.91 142.50Z"/><path d="M724.70 128.98L738.70 142.58L724.70 156.18L710.70 142.58Z"/><path d="M731.48 129.06L745.48 142.66L731.48 156.26L717.48 142.66Z"/><path d="M738.26 129.13L752.26 142.73L738.26 156.33L724.26 142.73Z"/><path d="M745.05 129.21L759.05 142.81L745.05 156.41L731.05 142.81Z"/><path d="M751.83 129.29L765.83 142.89L751.83 156.49L737.83 142.89Z"/><path d="M758.62 129.37L772.62 142.97L758.62 156.57L744.62 142.97Z"/><path d="M765.40 129.44L779.40 143.04L765.40 156.64L751.40 143.04Z"/><path d="M772.18 129.52L786.18 143.12L772.18 156.72L758.18 143.12Z"/><path d="M778.97 129.60L792.97 143.20L778.97 156.80L764.97 143.20Z"/><path d="M785.75 129.68L799.75 143.28L785.75 156.88L771.75 143.28Z"/><path d="M792.54 129.75L806.54 143.35L792.54 156.95L778.54 143.35Z"/><path d="M799.32 129.83L813.32 143.43L799.32 157.03L785.32 143.43Z"/><path d="M806.10 129.91L820.10 143.51L806.10 157.11L792.10 143.51Z"/><path d="M812.89 129.99L826.89 143.59L812.89 157.19L798.89 143.59Z"/><path d="M819.67 130.06L833.67 143.66L819.67 157.26L805.67 143.66Z"/><path d="M826.46 130.14L840.46 143.74L826.46 157.34L812.46 143.74Z"/><path d="M833.24 130.22L847.24 143.82L833.24 157.42L819.24 143.82Z"/><path d="M840.02 130.30L854.02 143.90L840.02 157.50L826.02 143.90Z"/><path d="M846.81 130.37L860.81 143.97L846.81 157.57L832.81 143.97Z"/><path d="M853.59 130.45L867.59 144.05L853.59 157.65L839.59 144.05Z"/><path d="M860.38 130.53L874.38 144.13L860.38 157.73L846.38 144.13Z"/><path d="M867.16 130.61L881.16 144.21L867.16 157.81L853.16 144.21Z"/><path d="M873.94 130.68L887.94 144.28L873.94 157.88L859.94 144.28Z"/><path d="M880.73 130.76L894.73 144.36L880.73 157.96L866.73 144.36Z"/><path d="M887.51 130.84L901.51 144.44L887.51 158.04L873.51 144.44Z"/><path d="M894.30 130.92L908.30 144.52L894.30 158.12L880.30 144.52Z"/><path d="M901.08 130.99L915.08 144.59L901.08 158.19L887.08 144.59Z"/><path d="M907.86 131.07L921.86 144.67L907.86 158.27L893.86 144.67Z"/><path d="M914.65 131.15L928.65 144.75L914.65 158.35L900.65 144.75Z"/><path d="M921.43 131.23L935.43 144.83L921.43 158.43L907.43 144.83Z"/><path d="M928.22 131.30L942.22 144.90L928.22 158.50L914.22 144.90Z"/><path d="M935.00 131.38L949.00 144.98L935.00 158.58L921.00 144.98Z"/><path d="M941.78 131.46L955.78 145.06L941.78 158.66L927.78 145.06Z"/><path d="M948.57 131.54L962.57 145.14L948.57 158.74L934.57 145.14Z"/><path d="M955.35 131.61L969.35 145.21L955.35 158.81L941.35 145.21Z"/><path d="M962.14 131.69L976.14 145.29L962.14 158.89L948.14 145.29Z"/><path d="M968.92 131.77L982.92 145.37L968.92 158.97L954.92 145.37Z"/><path d="M975.70 131.84L989.70 145.44L975.70 159.04L961.70 145.44Z"/><path d="M982.49 131.92L996.49 145.52L982.49 159.12L968.49 145.52Z"/><path d="M989.27 132.00L1003.27 145.60L989.27 159.20L975.27 145.60Z"/><path d="M996.06 132.08L1010.06 145.68L996.06 159.28L982.06 145.68Z"/><path d="M1002.84 132.15L1016.84 145.75L1002.84 159.35L988.84 145.75Z"/><path d="M1009.62 132.23L1023.62 145.83L1009.62 159.43L995.62 145.83Z"/><path d="M1016.41 132.31L1030.41 145.91L1016.41 159.51L1002.41 145.91Z"/><path d="M1023.19 132.39L1037.19 145.99L1023.19 159.59L1009.19 145.99Z"/><path d="M1029.98 132.46L1043.98 146.06L1029.98 159.66L1015.98 146.06Z"/><path d="M1036.76 132.54L1050.76 146.14L1036.76 159.74L1022.76 146.14Z"/><path d="M1043.54 132.62L1057.54 146.22L1043.54 159.82L1029.54 146.22Z"/><path d="M1050.33 132.70L1064.33 146.30L1050.33 159.90L1036.33 146.30Z"/><path d="M1057.11 132.77L1071.11 146.37L1057.11 159.97L1043.11 146.37Z"/><path d="M1063.90 132.85L1077.90 146.45L1063.90 160.05L1049.90 146.45Z"/><path d="M1070.68 132.93L1084.68 146.53L1070.68 160.13L1056.68 146.53Z"/><path d="M1077.46 133.01L1091.46 146.61L1077.46 160.21L1063.46 146.61Z"/><path d="M1084.25 133.08L1098.25 146.68L1084.25 160.28L1070.25 146.68Z"/><path d="M1091.03 133.16L1105.03 146.76L1091.03 160.36L1077.03 146.76Z"/><path d="M1097.82 133.24L1111.82 146.84L1097.82 160.44L1083.82 146.84Z"/><path d="M1104.60 133.32L1118.60 146.92L1104.60 160.52L1090.60 146.92Z"/><path d="M1111.38 133.39L1125.38 146.99L1111.38 160.59L1097.38 146.99Z"/><path d="M1118.17 133.47L1132.17 147.07L1118.17 160.67L1104.17 147.07Z"/><path d="M1124.95 133.55L1138.95 147.15L1124.95 160.75L1110.95 147.15Z"/><path d="M1131.74 133.63L1145.74 147.23L1131.74 160.83L1117.74 147.23Z"/><path d="M1138.52 133.70L1152.52 147.30L1138.52 160.90L1124.52 147.30Z"/><path d="M1145.30 133.78L1159.30 147.38L1145.30 160.98L1131.30 147.38Z"/><path d="M1152.09 133.86L1166.09 147.46L1152.09 161.06L1138.09 147.46Z"/><path d="M1158.87 133.94L1172.87 147.54L1158.87 161.14L1144.87 147.54Z"/><path d="M1165.66 134.77L1179.66 148.37L1165.66 161.97L1151.66 148.37Z"/><path d="M1172.44 135.61L1186.44 149.21L1172.44 162.81L1158.44 149.21Z"/><path d="M1179.22 136.38L1193.22 149.98L1179.22 163.58L1165.22 149.98Z"/><path d="M1186.01 138.16L1200.01 151.76L1186.01 165.36L1172.01 151.76Z"/><path d="M1192.79 141.22L1206.79 154.82L1192.79 168.42L1178.79 154.82Z"/><path d="M1199.58 147.84L1213.58 161.44L1199.58 175.04L1185.58 161.44Z"/><path d="M1206.36 162.37L1220.36 175.97L1206.36 189.57L1192.36 175.97Z"/><path d="M1213.14 189.39L1227.14 202.99L1213.14 216.59L1199.14 202.99Z"/><path d="M1219.93 234.50L1233.93 248.10L1219.93 261.70L1205.93 248.10Z"/><path d="M1226.71 307.90L1240.71 321.50L1226.71 335.10L1212.71 321.50Z"/><path d="M1233.50 422.84L1247.50 436.44L1233.50 450.04L1219.50 436.44Z"/><path d="M1240.28 599.20L1254.28 612.80L1240.28 626.40L1226.28 612.80Z"/><path d="M1247.06 868.08L1261.06 881.68L1247.06 895.28L1233.06 881.68Z"/></g>

</g>
<rect x="1359.00" y="683.3" width="221.60" height="283.50" fill="#fff" stroke="#6c6c6c" stroke-width="2"/>
<line x1="1365.5" y1="714.6" x2="1466.5" y2="714.6" stroke="#b0b0b0" stroke-width="3.0"/>
<g fill="#4f4f4f"><rect x="1405.80" y="704.10" width="21.00" height="21.00"/></g>
<text transform="translate(1491.5 731.0) scale(1.1 1)" font-family="Liberation Serif, Times New Roman, serif" font-size="42.5" stroke="#000" stroke-width="1.4">10<tspan dx="0.5" dy="-12.5" font-size="28" stroke-width="0.9">4</tspan></text>
<line x1="1365.5" y1="769.8" x2="1466.5" y2="769.8" stroke="#f56b6b" stroke-width="1.8"/>
<g fill="#f23b3b"><circle cx="1416.30" cy="769.80" r="10.6"/></g>
<text transform="translate(1491.5 783.5) scale(1.1 1)" font-family="Liberation Serif, Times New Roman, serif" font-size="42.5" stroke="#000" stroke-width="1.4">10<tspan dx="0.5" dy="-12.5" font-size="28" stroke-width="0.9">5</tspan></text>
<line x1="1365.5" y1="825.5" x2="1466.5" y2="825.5" stroke="#8fb2f2" stroke-width="3.0"/>
<g fill="#1a5ee8"><path d="M1416.30 809.23L1429.90 833.63H1402.70Z"/></g>
<text transform="translate(1491.5 836.4) scale(1.1 1)" font-family="Liberation Serif, Times New Roman, serif" font-size="42.5" stroke="#000" stroke-width="1.4">10<tspan dx="0.5" dy="-12.5" font-size="28" stroke-width="0.9">6</tspan></text>
<line x1="1365.5" y1="880.9" x2="1466.5" y2="880.9" stroke="#5cc08a" stroke-width="2.0"/>
<g fill="#2aa864"><path d="M1416.30 897.17L1429.90 872.77H1402.70Z"/></g>
<text transform="translate(1491.5 889.4) scale(1.1 1)" font-family="Liberation Serif, Times New Roman, serif" font-size="42.5" stroke="#000" stroke-width="1.4">10<tspan dx="0.5" dy="-12.5" font-size="28" stroke-width="0.9">7</tspan></text>
<line x1="1365.5" y1="936.2" x2="1466.5" y2="936.2" stroke="#d4b0f0" stroke-width="2.6"/>
<g fill="#b06fdf"><path d="M1416.30 922.60L1430.30 936.20L1416.30 949.80L1402.30 936.20Z"/></g>
<text transform="translate(1491.5 941.6) scale(1.1 1)" font-family="Liberation Serif, Times New Roman, serif" font-size="42.5" stroke="#000" stroke-width="1.4">10<tspan dx="0.5" dy="-12.5" font-size="28" stroke-width="0.9">8</tspan></text>
<rect x="171.80" y="14.13" width="1187.20" height="955.73" fill="none" stroke="#000" stroke-width="4.4"/>
<line x1="153.30" y1="969.86" x2="171.80" y2="969.86" stroke="#000" stroke-width="4.0"/>
<line x1="162.30" y1="906.14" x2="171.80" y2="906.14" stroke="#000" stroke-width="4.0"/>
<line x1="153.30" y1="842.43" x2="171.80" y2="842.43" stroke="#000" stroke-width="4.0"/>
<line x1="162.30" y1="778.72" x2="171.80" y2="778.72" stroke="#000" stroke-width="4.0"/>
<line x1="153.30" y1="715.00" x2="171.80" y2="715.00" stroke="#000" stroke-width="4.0"/>
<line x1="162.30" y1="651.28" x2="171.80" y2="651.28" stroke="#000" stroke-width="4.0"/>
<line x1="153.30" y1="587.57" x2="171.80" y2="587.57" stroke="#000" stroke-width="4.0"/>
<line x1="162.30" y1="523.86" x2="171.80" y2="523.86" stroke="#000" stroke-width="4.0"/>
<line x1="153.30" y1="460.14" x2="171.80" y2="460.14" stroke="#000" stroke-width="4.0"/>
<line x1="162.30" y1="396.43" x2="171.80" y2="396.43" stroke="#000" stroke-width="4.0"/>
<line x1="153.30" y1="332.71" x2="171.80" y2="332.71" stroke="#000" stroke-width="4.0"/>
<line x1="162.30" y1="269.00" x2="171.80" y2="269.00" stroke="#000" stroke-width="4.0"/>
<line x1="153.30" y1="205.28" x2="171.80" y2="205.28" stroke="#000" stroke-width="4.0"/>
<line x1="162.30" y1="141.56" x2="171.80" y2="141.56" stroke="#000" stroke-width="4.0"/>
<line x1="153.30" y1="77.85" x2="171.80" y2="77.85" stroke="#000" stroke-width="4.0"/>
<line x1="162.30" y1="14.13" x2="171.80" y2="14.13" stroke="#000" stroke-width="4.0"/>
<line x1="171.80" y1="969.86" x2="171.80" y2="978.86" stroke="#000" stroke-width="4.0"/>
<line x1="256.60" y1="969.86" x2="256.60" y2="987.36" stroke="#000" stroke-width="4.0"/>
<line x1="341.40" y1="969.86" x2="341.40" y2="978.86" stroke="#000" stroke-width="4.0"/>
<line x1="426.20" y1="969.86" x2="426.20" y2="987.36" stroke="#000" stroke-width="4.0"/>
<line x1="511.00" y1="969.86" x2="511.00" y2="978.86" stroke="#000" stroke-width="4.0"/>
<line x1="595.80" y1="969.86" x2="595.80" y2="987.36" stroke="#000" stroke-width="4.0"/>
<line x1="680.60" y1="969.86" x2="680.60" y2="978.86" stroke="#000" stroke-width="4.0"/>
<line x1="765.40" y1="969.86" x2="765.40" y2="987.36" stroke="#000" stroke-width="4.0"/>
<line x1="850.20" y1="969.86" x2="850.20" y2="978.86" stroke="#000" stroke-width="4.0"/>
<line x1="935.00" y1="969.86" x2="935.00" y2="987.36" stroke="#000" stroke-width="4.0"/>
<line x1="1019.80" y1="969.86" x2="1019.80" y2="978.86" stroke="#000" stroke-width="4.0"/>
<line x1="1104.60" y1="969.86" x2="1104.60" y2="987.36" stroke="#000" stroke-width="4.0"/>
<line x1="1189.40" y1="969.86" x2="1189.40" y2="978.86" stroke="#000" stroke-width="4.0"/>
<line x1="1274.20" y1="969.86" x2="1274.20" y2="987.36" stroke="#000" stroke-width="4.0"/>
<line x1="1359.00" y1="969.86" x2="1359.00" y2="978.86" stroke="#000" stroke-width="4.0"/>
<text x="140" y="90.35" text-anchor="end" font-family="Liberation Sans, Arial, sans-serif" font-weight="bold" font-size="41">25</text>
<text x="140" y="217.78" text-anchor="end" font-family="Liberation Sans, Arial, sans-serif" font-weight="bold" font-size="41">20</text>
<text x="140" y="345.21" text-anchor="end" font-family="Liberation Sans, Arial, sans-serif" font-weight="bold" font-size="41">15</text>
<text x="140" y="472.64" text-anchor="end" font-family="Liberation Sans, Arial, sans-serif" font-weight="bold" font-size="41">10</text>
<text x="140" y="600.07" text-anchor="end" font-family="Liberation Sans, Arial, sans-serif" font-weight="bold" font-size="41">5</text>
<text x="140" y="727.50" text-anchor="end" font-family="Liberation Sans, Arial, sans-serif" font-weight="bold" font-size="41">0</text>
<text x="140" y="854.93" text-anchor="end" font-family="Liberation Sans, Arial, sans-serif" font-weight="bold" font-size="41">−5</text>
<text x="140" y="982.36" text-anchor="end" font-family="Liberation Sans, Arial, sans-serif" font-weight="bold" font-size="41">−10</text>
<text x="256.60" y="1033" text-anchor="middle" font-family="Liberation Sans, Arial, sans-serif" font-weight="bold" font-size="41">−1.0</text>
<text x="426.20" y="1033" text-anchor="middle" font-family="Liberation Sans, Arial, sans-serif" font-weight="bold" font-size="41">−0.5</text>
<text x="595.80" y="1033" text-anchor="middle" font-family="Liberation Sans, Arial, sans-serif" font-weight="bold" font-size="41">0.0</text>
<text x="765.40" y="1033" text-anchor="middle" font-family="Liberation Sans, Arial, sans-serif" font-weight="bold" font-size="41">0.5</text>
<text x="935.00" y="1033" text-anchor="middle" font-family="Liberation Sans, Arial, sans-serif" font-weight="bold" font-size="41">1.0</text>
<text x="1104.60" y="1033" text-anchor="middle" font-family="Liberation Sans, Arial, sans-serif" font-weight="bold" font-size="41">1.5</text>
<text x="1274.20" y="1033" text-anchor="middle" font-family="Liberation Sans, Arial, sans-serif" font-weight="bold" font-size="41">2.0</text>
<text x="647.8" y="1111.6" font-family="Liberation Sans, Arial, sans-serif" font-size="50.8">Voltage(V)</text>
<text transform="translate(51.3 635.7) rotate(-90)" font-family="Liberation Sans, Arial, sans-serif" font-size="50">Jsc(mA/cm2)</text>

</svg>
</body></html>
